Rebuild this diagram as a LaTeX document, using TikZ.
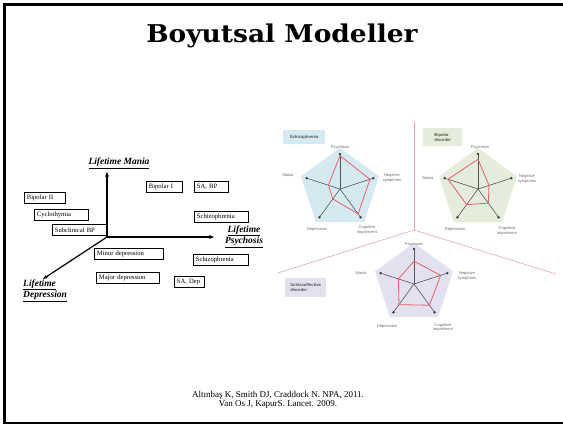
\documentclass[tikz,border=0pt]{standalone}
\usepackage{fontspec}
\setmainfont{Liberation Serif}
\setsansfont{Liberation Sans}
\newfontfamily\titlefont{DejaVu Serif}
\usetikzlibrary{arrows.meta}
\definecolor{pinkline}{HTML}{E9A3AC}
\definecolor{profred}{HTML}{E8606A}
\definecolor{axgray}{HTML}{555555}
\definecolor{lblgray}{HTML}{6A6A6A}
\definecolor{sfill}{HTML}{D4EAF0}
\definecolor{bfill}{HTML}{E4ECDB}
\definecolor{safill}{HTML}{E3E1F0}
\tikzset{
  dbox/.style={draw=black, line width=0.9pt, inner xsep=2.5pt, inner ysep=0pt, minimum height=11pt, anchor=north west, align=left, text width=#1, font=\fontsize{6.6}{7}\selectfont},
  axlbl/.style={font=\fontsize{9.5}{10.5}\selectfont\bfseries\itshape},
  axarrow/.style={line width=1.2pt, -{Stealth[length=5pt,width=4pt]}},
  rlbl/.style={font=\sffamily\fontsize{4}{4.6}\selectfont, text=lblgray, inner sep=0.5pt, align=center},
  rtitle/.style={font=\sffamily\bfseries\fontsize{4.2}{4.8}\selectfont, text=axgray, inner xsep=3pt, inner ysep=2pt, align=left, anchor=north west},
  axisline/.style={draw=axgray, line width=0.6pt},
  profile/.style={draw=profred, line width=0.8pt, line join=round},
  divider/.style={draw=pinkline, line width=0.6pt}
}
\newcommand\myradar[8]{%
\begin{scope}[shift={(#1,#2)}]
\fill[#3] (-90:41) -- (-18:41) -- (54:41) -- (126:41) -- (198:41) -- cycle;
\foreach \a in {-90,-18,54,126,198} {\draw[axisline] (0,0) -- (\a:35); \fill[axgray!80!black] (\a:35) circle (1.4);}
\draw[profile] (-90:{35*#4}) -- (-18:{35*#5}) -- (54:{35*#6}) -- (126:{35*#7}) -- (198:{35*#8}) -- cycle;
\end{scope}}
\begin{document}
\begin{tikzpicture}[x=1pt,y=-1pt]
\useasboundingbox (0,0) rectangle (563,427);
\begin{scope}
\clip (0,0) rectangle (563,427);
\draw[line width=2.5pt] (570,4.5) -- (4.5,4.5) -- (4.5,423) -- (570,423);
\end{scope}
% title
\node[anchor=base, font=\titlefont\bfseries\fontsize{24.5}{28}\selectfont, inner sep=0pt, xscale=1.08] (title) at (282,42.7) {Boyutsal Modeller};
% left diagram axes
\coordinate (O) at (107,237);
\coordinate (maniatip) at (107,172);
\coordinate (psytip) at (214,237);
\coordinate (deptip) at (43,279);
\draw[axarrow] (O) -- (maniatip);
\draw[axarrow] (O) -- (psytip);
\draw[axarrow] (O) -- (deptip);
\node[axlbl, inner sep=0pt] (lmania) at (119,163) {\underline{Lifetime Mania}};
\node[axlbl, inner sep=0pt, align=center] (lpsy) at (244,236.5) {\underline{Lifetime}\\\underline{Psychosis}};
\node[axlbl, inner sep=0pt, align=left, anchor=west] (ldep) at (23,290.5) {\underline{Lifetime}\\\underline{Depression}};
% boxes
\node[dbox=36pt] (b1) at (24,192) {Bipolar II};
\node[dbox=49pt] (b2) at (34,209) {Cyclothymia};
\node[dbox=49pt] (b3) at (52,224) {Subclinical BP};
\node[dbox=31pt] (b4) at (146,181) {Bipolar I};
\node[dbox=29pt] (b5) at (194,181) {SA, BP};
\node[dbox=49pt] (b6) at (194,211) {Schizophrenia};
\node[dbox=64pt] (b7) at (94,248) {Minor depression};
\node[dbox=50pt] (b8) at (193,254) {Schizophrenia};
\node[dbox=58pt] (b9) at (96,272) {Major depression};
\node[dbox=25pt] (b10) at (174,276) {SA,~Dep};
% dividers
\coordinate (J) at (414,230);
\coordinate (Jtop) at (414,122);
\coordinate (Jleft) at (278,273);
\coordinate (Jright) at (556,274);
\draw[divider] (Jtop) -- (J);
\draw[divider] (J) -- (Jleft);
\draw[divider] (J) -- (Jright);
% radars
\myradar{340}{189}{sfill}{0.95}{0.9}{0.88}{0.35}{0.35}
\myradar{478}{189}{bfill}{0.85}{0.33}{0.5}{0.55}{0.9}
\myradar{414}{284}{safill}{0.65}{0.8}{0.75}{0.73}{0.47}
% radar titles
\node[rtitle, fill=sfill, minimum width=42pt, minimum height=14pt] (ts) at (283,130) {Schizophrenia};
\node[rtitle, fill=bfill, minimum width=39pt, minimum height=18pt] (tb) at (423,128) {Bipolar\\disorder};
\node[rtitle, fill=safill, minimum width=41pt, minimum height=19pt] (tsa) at (285,278) {Schizoaffective\\disorder};
% radar labels S
\node[rlbl] (s1) at (340,147.5) {Psychosis};
\node[rlbl] (s2) at (392,178) {Negative\\symptoms};
\node[rlbl] (s3) at (367,230) {Cognitive\\impairment};
\node[rlbl] (s4) at (317,229) {Depression};
\node[rlbl] (s5) at (288,175.5) {Mania};
% radar labels B
\node[rlbl] (p1) at (480,147) {Psychosis};
\node[rlbl] (p2) at (527,179) {Negative\\symptoms};
\node[rlbl] (p3) at (507,231) {Cognitive\\impairment};
\node[rlbl] (p4) at (455,229.5) {Depression};
\node[rlbl] (p5) at (428,178.5) {Mania};
% radar labels SA
\node[rlbl] (q1) at (414,244) {Psychosis};
\node[rlbl] (q2) at (467,276) {Negative\\symptoms};
\node[rlbl] (q3) at (443,327.5) {Cognitive\\impairment};
\node[rlbl] (q4) at (387,326.5) {Depression};
\node[rlbl] (q5) at (361,273.5) {Mania};
% references
\node[font=\fontsize{9}{9}\selectfont, align=center, inner sep=0pt] (refs) at (278,399.5) {Alt\i nba\c{s} K, Smith DJ, Craddock N. NPA, 2011.\\Van Os J, KapurS. Lancet. 2009.};
\end{tikzpicture}
\end{document}
